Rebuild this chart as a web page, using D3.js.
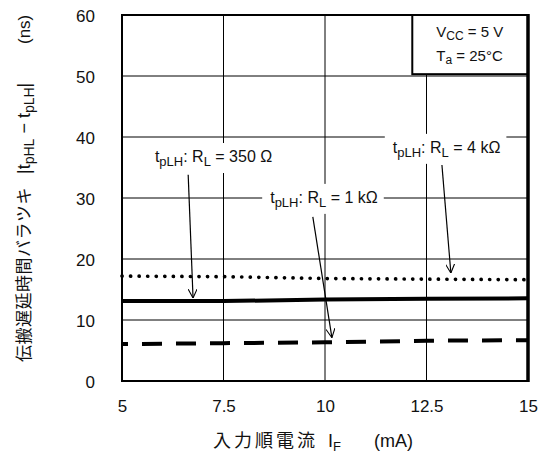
<!DOCTYPE html>
<html>
<head>
<meta charset="utf-8">
<script src="https://cdn.jsdelivr.net/npm/d3@7"></script>
<style>
  body { margin: 0; background: #fff; }
  svg { display: block; font-family: "Liberation Sans", Arial, sans-serif; }
  .jp { font-family: "Noto Sans CJK JP", sans-serif; }
</style>
</head>
<body>
<svg id="chart"></svg>
<script>
// input forward current (mA)
const iF = [5, 7.5, 10, 12.5, 15];
// |tpHL - tpLH| (ns) per load resistance
const r350 = [13.1, 13.1, 13.35, 13.5, 13.55];
const r1k = [6.05, 6.2, 6.35, 6.6, 6.7];
const r4k = [17.2, 17.1, 16.8, 16.7, 16.6];

const xTicks = [5, 7.5, 10, 12.5, 15];
const yTicks = [0, 10, 20, 30, 40, 50, 60];

// label text (name), anchor, and arrow from -> to, in data units
const notes = [
  { name: '350 Ω', at: [5.81, 35.9], from: [6.63, 33.8], to: [6.75, 13.6] },
  { name: '1 kΩ', at: [8.65, 29.2], from: [9.7, 26.9], to: [10.17, 7.1] },
  { name: '4 kΩ', at: [11.67, 37.4], from: [12.88, 35.4], to: [13.1, 17.7] }
];

const W = 543, H = 464;
const m = { top: 15, right: 15, bottom: 83, left: 122 };
const w = W - m.left - m.right, h = H - m.top - m.bottom;

const svg = d3.select('#chart').attr('width', W).attr('height', H);

svg.append('defs').append('marker')
  .attr('id', 'arr')
  .attr('viewBox', '0 0 10 10')
  .attr('refX', 10).attr('refY', 5)
  .attr('markerWidth', 9).attr('markerHeight', 9)
  .attr('markerUnits', 'userSpaceOnUse')
  .attr('orient', 'auto')
  .append('path')
  .attr('d', 'M0,0 L10,5 L0,10')
  .attr('fill', 'none').attr('stroke', '#000').attr('stroke-width', 1.2);

const g = svg.append('g').attr('transform', `translate(${m.left},${m.top})`);

const x = d3.scaleLinear().domain([5, 15]).range([0, w]);
const y = d3.scaleLinear().domain([0, 60]).range([h, 0]);

// grid
g.append('g').selectAll('line').data(xTicks.slice(1, -1)).join('line')
  .attr('x1', d => x(d)).attr('x2', d => x(d))
  .attr('y1', 0).attr('y2', h)
  .attr('stroke', '#000').attr('stroke-width', 1);
g.append('g').selectAll('line').data(yTicks.slice(1, -1)).join('line')
  .attr('x1', 0).attr('x2', w)
  .attr('y1', d => y(d)).attr('y2', d => y(d))
  .attr('stroke', '#000').attr('stroke-width', 1);

// axes labels
const xAxis = g.append('g').attr('transform', `translate(0,${h})`)
  .call(d3.axisBottom(x).tickValues(xTicks).tickSize(0).tickPadding(19).tickFormat(d3.format('')));
const yAxis = g.append('g')
  .call(d3.axisLeft(y).tickValues(yTicks).tickSize(0).tickPadding(27));
[xAxis, yAxis].forEach(a => {
  a.select('.domain').remove();
  a.selectAll('text').attr('font-size', 17).attr('fill', '#111')
    .attr('font-family', '"Liberation Sans", Arial, sans-serif');
});
yAxis.selectAll('text').attr('dy', '0.36em');

// series
const line = d3.line().x((d, i) => x(iF[i])).y(d => y(d));
g.append('path').datum(r4k).attr('d', line)
  .attr('fill', 'none').attr('stroke', '#000').attr('stroke-width', 3.7)
  .attr('stroke-linecap', 'round').attr('stroke-dasharray', '0.1 8.45');
g.append('path').datum(r350).attr('d', line)
  .attr('fill', 'none').attr('stroke', '#000').attr('stroke-width', 4);
g.append('path').datum(r1k).attr('d', line)
  .attr('fill', 'none').attr('stroke', '#000').attr('stroke-width', 4)
  .attr('stroke-dasharray', '20 14').attr('stroke-dashoffset', 14);

// annotations
notes.forEach(n => {
  const t = g.append('text')
    .attr('x', x(n.at[0])).attr('y', y(n.at[1]))
    .attr('font-size', 16).attr('fill', '#111');
  t.append('tspan').text('t');
  t.append('tspan').attr('font-size', 13).attr('dy', 4).text('pLH');
  t.append('tspan').attr('dy', -4).text(': R');
  t.append('tspan').attr('font-size', 13).attr('dy', 4).text('L');
  t.append('tspan').attr('dy', -4).text(' = ' + n.name);
  const bb = t.node().getBBox();
  g.insert('rect', () => t.node())
    .attr('x', bb.x - 8).attr('y', bb.y - 5)
    .attr('width', bb.width + 14).attr('height', bb.height + 9)
    .attr('fill', '#fff');
  g.append('line')
    .attr('x1', x(n.from[0])).attr('y1', y(n.from[1]))
    .attr('x2', x(n.to[0])).attr('y2', y(n.to[1]))
    .attr('stroke', '#000').attr('stroke-width', 1.2)
    .attr('marker-end', 'url(#arr)');
});

// condition box
const bx = x(12.15), by = y(50.3);
g.append('rect').attr('x', bx).attr('y', 0)
  .attr('width', w - bx).attr('height', by)
  .attr('fill', '#fff').attr('stroke', '#000').attr('stroke-width', 2);
const c1 = g.append('text').attr('x', bx + 24).attr('y', 22).attr('font-size', 15).attr('fill', '#111');
c1.append('tspan').text('V');
c1.append('tspan').attr('font-size', 12).attr('dy', 3).text('CC');
c1.append('tspan').attr('dy', -3).text(' = 5 V');
const c2 = g.append('text').attr('x', bx + 24).attr('y', 46).attr('font-size', 15).attr('fill', '#111');
c2.append('tspan').text('T');
c2.append('tspan').attr('font-size', 12).attr('dy', 3).text('a');
c2.append('tspan').attr('dy', -3).text(' = 25°C');

// frame
g.append('rect').attr('width', w).attr('height', h)
  .attr('fill', 'none').attr('stroke', '#000').attr('stroke-width', 2);
g.append('line').attr('x1', w).attr('x2', w).attr('y1', -1).attr('y2', h + 1)
  .attr('stroke', '#000').attr('stroke-width', 3.5);

// x title
const xt = svg.append('text').attr('x', 213).attr('y', 447).attr('font-size', 18).attr('fill', '#111');
xt.append('tspan').attr('class', 'jp').attr('letter-spacing', 3).text('入力順電流');
xt.append('tspan').attr('x', 328).text('I');
xt.append('tspan').attr('font-size', 13).attr('dy', 4).text('F');
xt.append('tspan').attr('dy', -4).attr('x', 374).text('(mA)');

// y title
const yt = svg.append('text')
  .attr('transform', 'translate(30,362) rotate(-90)')
  .attr('font-size', 17).attr('fill', '#111');
yt.append('tspan').attr('class', 'jp').attr('letter-spacing', 0.5).text('伝搬遅延時間バラツキ');
yt.append('tspan').attr('x', 188).attr('font-size', 18).text('|t');
yt.append('tspan').attr('font-size', 14).attr('dy', 4).text('pHL');
yt.append('tspan').attr('dy', -4).attr('font-size', 18).text(' − t');
yt.append('tspan').attr('font-size', 14).attr('dy', 4).text('pLH');
yt.append('tspan').attr('dy', -4).attr('font-size', 18).text('|');
yt.append('tspan').attr('x', 318).text('(ns)');
</script>
</body>
</html>
